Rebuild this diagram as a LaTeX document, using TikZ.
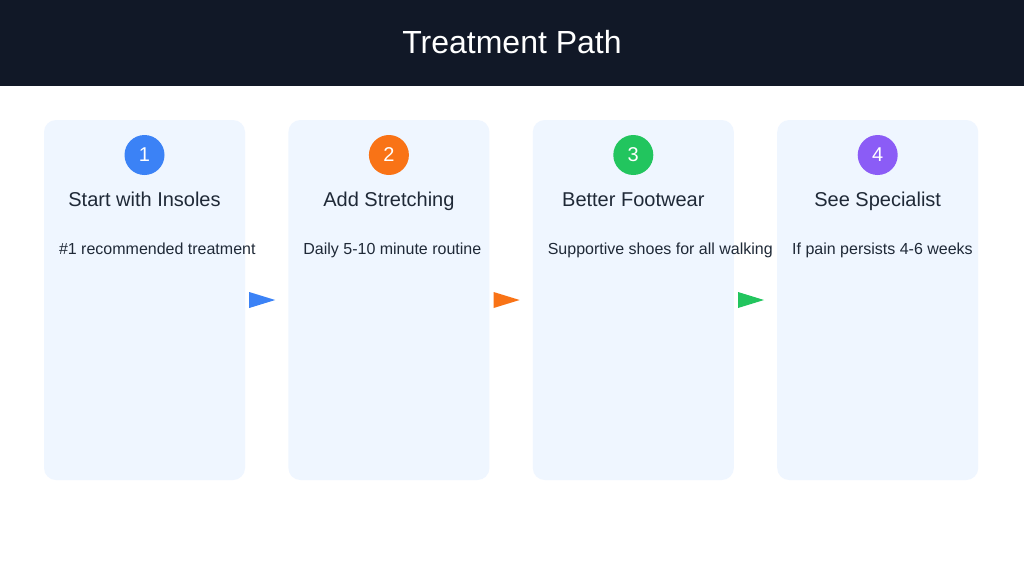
\documentclass[tikz,border=0pt]{standalone}
\usepackage{fontspec}
\setmainfont{Liberation Sans}
\usepackage{xcolor}
\usetikzlibrary{positioning}

\definecolor{headerbg}{HTML}{111827}
\definecolor{cardbg}{HTML}{EFF6FF}
\definecolor{textdark}{HTML}{1F2937}
\definecolor{stepblue}{HTML}{3B82F6}
\definecolor{steporange}{HTML}{F97316}
\definecolor{stepgreen}{HTML}{22C55E}
\definecolor{steppurple}{HTML}{8B5CF6}

\begin{document}
\begin{tikzpicture}[
    x=1pt, y=-1pt,
    node distance=43pt,
    card/.style={rectangle, fill=cardbg, rounded corners=12pt, inner sep=0pt,
                 minimum width=201pt, minimum height=360pt},
    badge/.style={circle, inner sep=0pt, minimum size=40pt, text=white,
                  font=\fontsize{20}{24}\selectfont},
    cardtitle/.style={text=textdark, anchor=base, inner sep=0pt,
                      font=\fontsize{20}{24}\selectfont},
    carddesc/.style={text=textdark, anchor=base west, inner sep=0pt,
                     font=\fontsize{16}{19}\selectfont}
  ]
    \useasboundingbox (0,0) rectangle (1024,576);
    \fill[white] (0,0) rectangle (1024,576);

    % header
    \fill[headerbg] (0,0) rectangle (1024,86);
    \node[text=white, anchor=base, inner sep=0pt, font=\fontsize{32}{38}\selectfont] (header) at (512,53) {Treatment Path};

    % cards
    \node[card] (card1) at (144.5,300) {};
    \node[card, right=of card1] (card2) {};
    \node[card, right=of card2] (card3) {};
    \node[card, right=of card3] (card4) {};

    \node[badge, fill=stepblue,   below=15pt of card1.north] (badge1) {1};
    \node[badge, fill=steporange, below=15pt of card2.north] (badge2) {2};
    \node[badge, fill=stepgreen,  below=15pt of card3.north] (badge3) {3};
    \node[badge, fill=steppurple, below=15pt of card4.north] (badge4) {4};

    \node[cardtitle] (title1) at ([yshift=-87pt]card1.north) {Start with Insoles};
    \node[cardtitle] (title2) at ([yshift=-87pt]card2.north) {Add Stretching};
    \node[cardtitle] (title3) at ([yshift=-87pt]card3.north) {Better Footwear};
    \node[cardtitle] (title4) at ([yshift=-87pt]card4.north) {See Specialist};

    \node[carddesc] (desc1) at ([xshift=15pt,yshift=-135pt]card1.north west) {\#1 recommended treatment};
    \node[carddesc] (desc2) at ([xshift=15pt,yshift=-135pt]card2.north west) {Daily 5-10 minute routine};
    \node[carddesc] (desc3) at ([xshift=15pt,yshift=-135pt]card3.north west) {Supportive shoes for all walking};
    \node[carddesc] (desc4) at ([xshift=15pt,yshift=-135pt]card4.north west) {If pain persists 4-6 weeks};

    % pointers between cards
    \fill[stepblue]   ([xshift=4pt,yshift=8pt]card1.east) -- ([xshift=30pt]card1.east) -- ([xshift=4pt,yshift=-8pt]card1.east) -- cycle;
    \fill[steporange] ([xshift=4pt,yshift=8pt]card2.east) -- ([xshift=30pt]card2.east) -- ([xshift=4pt,yshift=-8pt]card2.east) -- cycle;
    \fill[stepgreen]  ([xshift=4pt,yshift=8pt]card3.east) -- ([xshift=30pt]card3.east) -- ([xshift=4pt,yshift=-8pt]card3.east) -- cycle;
  \end{tikzpicture}
\end{document}
